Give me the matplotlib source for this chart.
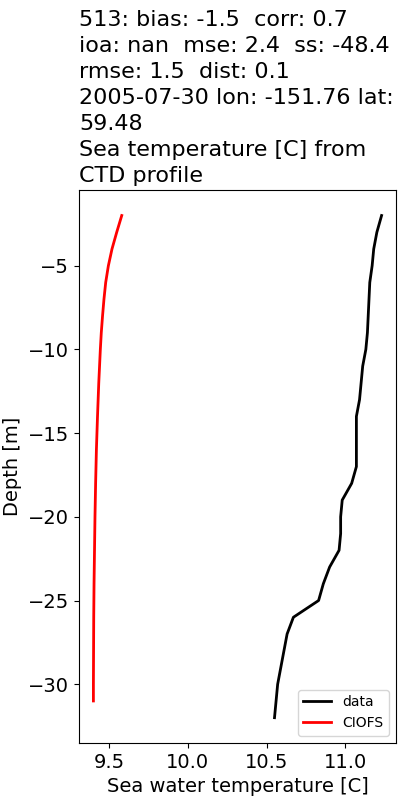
import matplotlib
matplotlib.use('Agg')
import matplotlib.pyplot as plt
import numpy as np

# CTD profile (observations)
data_depth = [-2, -3, -4, -5, -6, -7, -8, -9, -10, -11, -12, -13, -14, -15, -16, -17,
              -18, -19, -20, -21, -22, -23, -24, -25, -26, -27, -28, -29, -30, -31, -32]
data_temp = [11.23, 11.20, 11.18, 11.17, 11.155, 11.15, 11.145, 11.14, 11.13, 11.11, 11.10,
             11.09, 11.07, 11.07, 11.07, 11.07, 11.04, 10.98, 10.97, 10.97, 10.96, 10.90,
             10.86, 10.83, 10.67, 10.63, 10.61, 10.59, 10.57, 10.56, 10.55]

# CIOFS model profile
model_depth = [-2, -3, -4, -5, -6, -7, -8, -9, -10, -12, -14, -16, -18, -20, -22, -24,
               -26, -28, -30, -31]
model_temp = [9.58, 9.548, 9.518, 9.495, 9.478, 9.467, 9.458, 9.450, 9.444, 9.434, 9.426,
              9.419, 9.414, 9.410, 9.407, 9.404, 9.402, 9.401, 9.400, 9.400]

title = ("513: bias: -1.5  corr: 0.7\n"
         "ioa: nan  mse: 2.4  ss: -48.4\n"
         "rmse: 1.5  dist: 0.1\n"
         "2005-07-30 lon: -151.76 lat:\n"
         "59.48\n"
         "Sea temperature [C] from\n"
         "CTD profile")

fig = plt.figure(figsize=(4, 8), dpi=100)
ax = fig.add_axes([0.1975, 0.0715, 0.7925, 0.6905])

ax.plot(data_temp, data_depth, color='k', lw=2, label='data')
ax.plot(model_temp, model_depth, color='r', lw=2, label='CIOFS')

ax.set_title(title, loc='left', fontsize=16, linespacing=1.38)
ax.set_xlabel('Sea water temperature [C]', fontsize=14)
ax.set_ylabel('Depth [m]', fontsize=14)
ax.tick_params(labelsize=14)
ax.legend(loc='lower right', fontsize=10)

fig.savefig('out.png', dpi=100)
